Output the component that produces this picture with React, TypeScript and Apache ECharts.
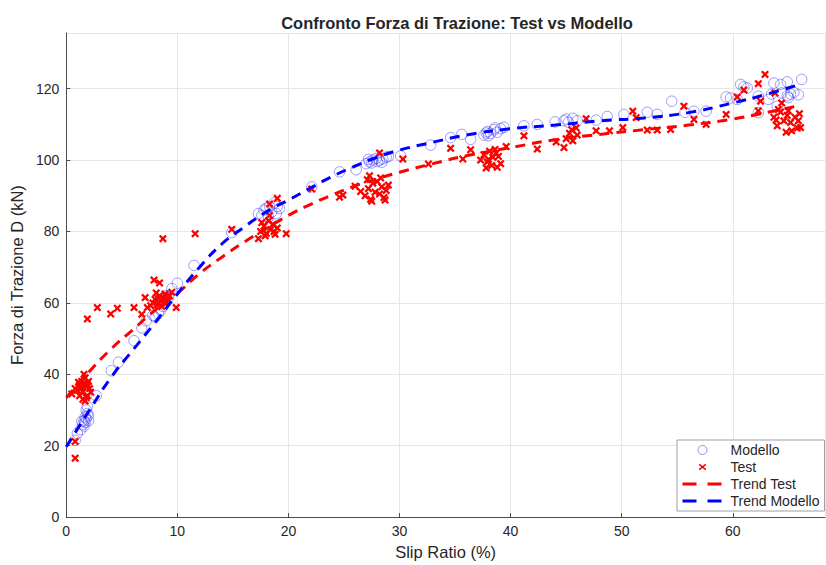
import React, { useEffect, useRef } from "react";
import * as echarts from "echarts";

const modelPoints: number[][] = [
  [0.8, 21.5], [1.0, 23.5], [1.3, 24.5], [1.5, 26], [1.6, 27], [1.7, 28], [1.8, 27.5], [1.9, 29], [2.0, 28.5], [1.7, 26.5],
  [1.8, 30], [2.0, 27], [1.6, 25.5], [1.9, 31], [1.4, 26.8],
  [2.7, 34], [4.05, 41], [4.7, 43.4], [6.1, 49.4], [6.8, 53], [7.2, 55],
  [8.0, 56], [8.3, 57], [8.5, 58], [8.7, 59], [8.2, 60], [8.8, 61], [9.0, 62], [8.4, 60.5], [9.5, 64], [10.0, 65.5], [7.8, 56.5], [9.2, 61.5],
  [11.5, 70.5], [14.9, 79.7],
  [17.3, 85], [17.8, 86], [18.0, 86.5], [18.3, 87], [18.5, 85.5], [18.7, 88], [19.0, 87], [18.2, 84], [17.6, 84.5], [19.2, 86.5], [18.9, 85],
  [22.1, 92.5], [24.6, 96.7], [26.1, 97.3],
  [27.0, 99], [27.3, 99.5], [27.6, 100], [27.9, 100.5], [28.2, 100], [28.5, 100.3], [27.5, 99.2], [28.0, 99.6], [28.8, 100.8], [29.0, 101], [27.2, 100.2], [28.4, 99.4],
  [30.1, 101.2], [32.8, 104.2], [34.6, 106.3], [35.6, 107.2], [36.4, 105.8],
  [37.6, 107], [37.9, 108], [38.2, 107.5], [38.5, 108.5], [38.8, 107.8], [39.1, 108.8], [39.4, 109.2], [38.0, 106.8], [38.6, 109], [37.8, 107.6],
  [41.2, 109.6], [42.4, 110], [44.0, 110.7], [44.8, 111], [45.2, 110.6], [45.6, 111.7], [46.0, 111], [45.0, 111.5],
  [47.7, 111.2], [48.7, 112.2], [50.2, 112.8], [52.3, 113.4], [53.2, 112.8], [54.5, 116.5], [55.7, 113.4], [56.5, 113.7], [57.6, 113.7],
  [59.4, 117.7], [59.8, 117.4], [60.4, 117], [60.7, 121.2], [61.0, 120.5], [61.3, 120.2], [62.3, 117.9], [62.3, 113.3], [63.7, 121.6],
  [64.3, 121.2], [64.9, 121.9], [64.4, 118.8], [64.9, 118], [65.2, 118.5], [65.5, 119], [65.9, 118.3], [66.2, 122.6], [64.0, 115.1],
  [63.2, 117], [65.0, 117.5], [63.5, 118.5],
];

const testPoints: number[][] = [
  [0.8, 21.2], [0.8, 16.5],
  [0.5, 34.5], [0.8, 36], [1.0, 35.5], [1.2, 37], [1.3, 36], [1.4, 38], [1.5, 35], [1.6, 37.5], [1.7, 39], [1.8, 36.5], [1.9, 34], [2.0, 38],
  [1.5, 33], [1.7, 32.5], [2.1, 36], [1.2, 34], [1.6, 40], [1.8, 33.5], [1.4, 36.5], [2.2, 35], [1.1, 37.8], [1.9, 37.2],
  [1.9, 55.5], [2.8, 58.7], [4.0, 56.9], [4.6, 58.5], [6.1, 58.7], [6.8, 56.8], [7.3, 58.7], [7.1, 61.5], [7.9, 66.4], [8.4, 65.6], [8.7, 78], [9.9, 58.7], [11.6, 79.4],
  [7.8, 60], [8.0, 61], [8.2, 59.5], [8.4, 62], [8.5, 60.5], [8.7, 61.5], [8.9, 62.5], [9.1, 61], [9.3, 62], [9.5, 63], [8.1, 62.8], [8.6, 59], [9.0, 60], [7.6, 59.2], [8.3, 61.2], [8.8, 60.2],
  [14.9, 80.6],
  [17.3, 78], [17.5, 80], [17.8, 81.5], [18.0, 79.5], [18.2, 83], [18.4, 80.5], [18.6, 82], [18.8, 79.2], [19.0, 81], [17.6, 82.5], [18.3, 84.5], [17.9, 78.8], [18.7, 80],
  [18.3, 87.7], [19.0, 89.3], [19.8, 79.4],
  [22.1, 91.9], [24.6, 89.6], [24.9, 90.2], [26.0, 92.7], [26.5, 91.2],
  [26.9, 90], [27.2, 92], [27.4, 89], [27.6, 93.5], [27.8, 91], [28.0, 94], [28.2, 90.5], [28.4, 92.5], [28.6, 89.5], [28.8, 91.5], [29.0, 93],
  [27.5, 88.5], [28.3, 95], [27.1, 94.5], [28.7, 88.8],
  [27.3, 95.6], [28.2, 102], [30.3, 100.3], [32.6, 98.9],
  [34.6, 103.3], [35.7, 100.3], [36.4, 102.9],
  [37.3, 100], [37.6, 101.5], [37.9, 99.5], [38.1, 102.5], [38.4, 100.8], [38.6, 103], [38.9, 101], [39.1, 99], [37.8, 97.8], [38.3, 98.5], [38.7, 102], [38.0, 100.2],
  [39.6, 103.8], [38.8, 98], [41.2, 106.8], [42.4, 103.1], [44.1, 105.1], [44.8, 103.5],
  [45.0, 106], [45.3, 107.5], [45.6, 105.4], [45.9, 109], [45.5, 108.5], [46.0, 107],
  [46.8, 111.6], [47.7, 108.2], [48.9, 108.2], [50.1, 109.1], [51.0, 113.7], [51.3, 111.9], [52.3, 108.4], [53.2, 108.4], [54.4, 108.6],
  [55.6, 115.1], [56.5, 111.4], [57.6, 110], [59.4, 112.8],
  [60.4, 117.7], [61.0, 119.6], [62.3, 121.4], [62.9, 124], [62.5, 116.5], [62.3, 113.8], [63.8, 118.8], [64.4, 116],
  [63.7, 112], [64.0, 109.6], [64.3, 113.5], [64.6, 111], [64.9, 112.5], [65.2, 110.5], [65.3, 108.2], [65.6, 112], [65.8, 109], [66.1, 109.1],
  [64.1, 114.2], [65.0, 113.8], [65.9, 111], [64.8, 107.8], [63.9, 111.2], [66.0, 113],
];

const trendX: number[] = [0, 2, 4, 6, 8, 10, 12, 14, 16, 18, 20, 22, 24, 26, 28, 30, 33, 36, 40, 44, 48, 52, 56, 60, 63, 66];
const trendModelY: number[] = [19.7, 29.5, 39, 46.8, 54.5, 62.5, 70, 76.5, 81.2, 85.5, 88.8, 92.2, 95.5, 98.3, 100.8, 102.8, 105, 107, 108.8, 109.8, 111, 111.8, 113.3, 116, 118.4, 121.2];
const trendTestY: number[] = [33.4, 40.5, 47, 52.5, 58, 62.7, 68.2, 72.8, 77, 80.8, 84.5, 87.6, 90.3, 92.8, 94.8, 96.6, 99, 101.2, 103.5, 105.7, 107.2, 108.5, 109.8, 111.5, 113.3, 115.3];

const xTicksMax = 68.3;
const yTicksMax = 135.6;

const FONT = "'Liberation Sans', Arial, Helvetica, sans-serif";
const TXT = "#262626";
const X_SYMBOL = "path://M2,0 L5,3 L8,0 L10,2 L7,5 L10,8 L8,10 L5,7 L2,10 L0,8 L3,5 L0,2 Z";
const DASH_ICON = "path://M0,0 M46,12 M3,4.6 H17 V7.4 H3 Z M28,4.6 H42 V7.4 H28 Z";
const X_ICON =
  "path://M0,0 M46,12 M20.2,2.8 L23,4.9 L25.8,2.8 L26.8,3.9 L24.2,6 L26.8,8.1 L25.8,9.2 L23,7.1 L20.2,9.2 L19.2,8.1 L21.8,6 L19.2,3.9 Z";
const CIRCLE_ICON = "path://M0,0 M46,12 M27.5,6 A4.5,4.5 0 1 1 18.5,6 A4.5,4.5 0 1 1 27.5,6 Z";

export default function App() {
  const ref = useRef<HTMLDivElement>(null);
  useEffect(() => {
    if (!ref.current) return;
    const chart = echarts.init(ref.current, undefined, { renderer: "svg" });
    const axisCommon = {
      axisLine: { show: true, lineStyle: { color: "#4d4d4d", width: 1 } },
      axisTick: { show: true, inside: true, length: 4, lineStyle: { color: "#4d4d4d" } },
      splitLine: { show: true, lineStyle: { color: "#e6e6e6", width: 1 } },
      nameTextStyle: { color: TXT, fontFamily: FONT, fontSize: 16.5 },
    };
    chart.setOption({
      animation: false,
      backgroundColor: "#ffffff",
      title: {
        text: "Confronto Forza di Trazione: Test vs Modello",
        left: 452,
        textAlign: "center",
        top: 9,
        textStyle: { color: TXT, fontFamily: FONT, fontSize: 16.5, fontWeight: "bold" },
      },
      grid: { left: 65, right: 1, top: 33, bottom: 45 },
      legend: {
        orient: "vertical",
        left: 677,
        top: 440,
        data: [
          { name: "Modello", icon: CIRCLE_ICON, itemStyle: { color: "rgba(255,255,255,0)", borderColor: "rgba(40,40,255,0.5)", borderWidth: 1 } },
          { name: "Test", icon: X_ICON, itemStyle: { color: "#ff0000", borderWidth: 0 } },
          { name: "Trend Test", icon: DASH_ICON, itemStyle: { color: "#ff0000", borderWidth: 0 } },
          { name: "Trend Modello", icon: DASH_ICON, itemStyle: { color: "#0000ff", borderWidth: 0 } },
        ],
        backgroundColor: "#ffffff",
        borderColor: "#a0a0a0",
        borderWidth: 1,
        padding: [3, 5, 3, 2],
        itemWidth: 46,
        itemHeight: 12,
        itemGap: 3,
        textStyle: { color: TXT, fontFamily: FONT, fontSize: 14, lineHeight: 13 },
      },
      xAxis: {
        type: "value",
        min: 0,
        max: xTicksMax,
        interval: 10,
        name: "Slip Ratio (%)",
        nameLocation: "middle",
        nameGap: 23,
        ...axisCommon,
        axisLabel: { color: TXT, fontFamily: FONT, fontSize: 14, margin: 7, showMaxLabel: false },
      },
      yAxis: {
        type: "value",
        min: 0,
        max: yTicksMax,
        interval: 20,
        name: "Forza di Trazione D (kN)",
        nameLocation: "middle",
        nameGap: 37,
        ...axisCommon,
        axisLabel: { color: TXT, fontFamily: FONT, fontSize: 14, margin: 7, showMaxLabel: false },
      },
      series: [
        {
          name: "Modello",
          type: "scatter",
          data: modelPoints,
          symbol: "circle",
          symbolSize: 10.5,
          itemStyle: { color: "rgba(255,255,255,0)", borderColor: "rgba(40,40,255,0.45)", borderWidth: 1, opacity: 1 },
          z: 2,
        },
        {
          name: "Test",
          type: "scatter",
          data: testPoints,
          symbol: X_SYMBOL,
          symbolSize: 8,
          itemStyle: { color: "#ff0000", opacity: 1 },
          z: 3,
        },
        {
          name: "Trend Test",
          type: "line",
          data: trendX.map((x, i) => [x, trendTestY[i]]),
          smooth: true,
          showSymbol: false,
          symbol: "none",
          lineStyle: { color: "#ff0000", width: 3, type: [10, 7] },
          itemStyle: { color: "#ff0000" },
          z: 4,
        },
        {
          name: "Trend Modello",
          type: "line",
          data: trendX.map((x, i) => [x, trendModelY[i]]),
          smooth: true,
          showSymbol: false,
          symbol: "none",
          lineStyle: { color: "#0000ff", width: 3, type: [10, 7] },
          itemStyle: { color: "#0000ff" },
          z: 4,
        },
      ],
    });
    return () => chart.dispose();
  }, []);
  return <div ref={ref} style={{ position: "absolute", left: 0, top: 0, width: 826, height: 565 }} />;
}
